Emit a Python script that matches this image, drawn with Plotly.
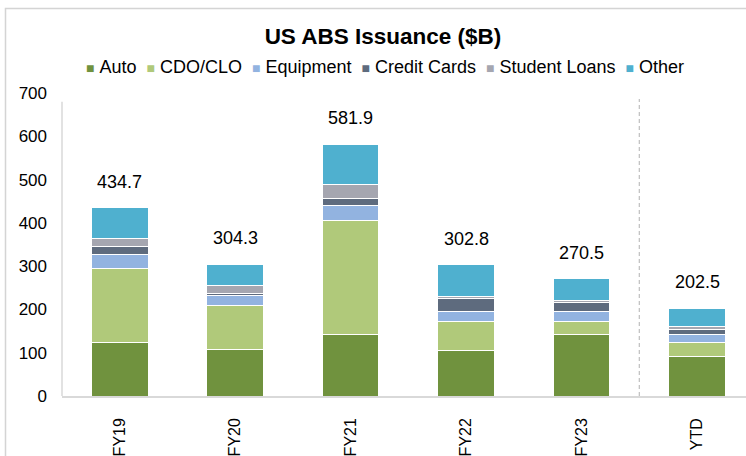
import plotly.graph_objects as go

# Issuance by asset class, $B
categories = ["FY19", "FY20", "FY21", "FY22", "FY23", "YTD"]
auto = [124, 108, 142, 106, 143, 91]
cdo_clo = [170, 102, 264, 65, 28, 32]
equipment = [32, 23, 34, 25, 24, 20]
credit_cards = [19, 3, 16, 29, 20, 11]
student_loans = [18, 19, 32, 5, 5, 6]
other = [71.7, 49.3, 93.9, 72.8, 50.5, 42.5]

series_names = ["Auto", "CDO/CLO", "Equipment", "Credit Cards", "Student Loans", "Other"]
series_values = [auto, cdo_clo, equipment, credit_cards, student_loans, other]
series_colors = ["#70923E", "#B0C97A", "#92B3E0", "#5E6B7E", "#A5A6B0", "#4FB0CF"]

y_ticks = [0, 100, 200, 300, 400, 500, 600, 700]

totals = [round(sum(vals), 1) for vals in zip(*series_values)]

FONT = "Liberation Sans, Arial, sans-serif"

fig = go.Figure()
for name, vals, color in zip(series_names, series_values, series_colors):
    fig.add_trace(go.Bar(
        x=categories, y=vals, name=name,
        marker=dict(color=color, line=dict(color="white", width=1)),
        width=0.49, showlegend=False,
    ))

# total labels above each stack
for cat, tot in zip(categories, totals):
    fig.add_annotation(
        x=cat, y=tot, text=f"{tot:.1f}", showarrow=False,
        yanchor="bottom", yshift=14,
        font=dict(family=FONT, size=18, color="#000000"),
    )

# compact legend row: coloured squares followed by names
nb = "\u00a0"
parts = []
for name, color in zip(series_names, series_colors):
    parts.append(f'<span style="color:{color};font-size:14px">■</span>{nb}{name}')
legend_text = (nb * 2).join(parts)
fig.add_annotation(
    xref="paper", yref="paper", x=0.472, y=1.085,
    text=legend_text, showarrow=False, xanchor="center", yanchor="middle",
    font=dict(family=FONT, size=18, color="#000000"),
)

# y axis line, divider before YTD, outer frame
fig.add_shape(type="line", xref="paper", yref="y", x0=0, x1=0, y0=0, y1=680,
              line=dict(color="#D9D9D9", width=1.5))
fig.add_shape(type="line", xref="x", yref="y", x0=4.5, x1=4.5, y0=0, y1=686,
              line=dict(color="#BFBFBF", width=1.2, dash="4px,3px"))
fig.add_shape(type="rect", xref="paper", yref="paper",
              x0=-0.0826, x1=1.2, y0=-0.5, y1=1.2787,
              line=dict(color="#D4D4D4", width=1.5))

fig.update_layout(
    width=746, height=456,
    margin=dict(l=62, r=0, t=93, b=58),
    paper_bgcolor="white", plot_bgcolor="white",
    barmode="stack",
    title=dict(
        text="US ABS Issuance ($B)", xref="container", yref="container",
        x=0.5134, y=0.9200, xanchor="center", yanchor="middle",
        font=dict(family=FONT, size=22.5, color="#000000", weight=700),
    ),
    xaxis=dict(
        type="category", range=[-0.5, 5.424], tickangle=-90,
        showline=True, linecolor="#D9D9D9", linewidth=1.5,
        showgrid=False, ticks="", ticklabelstandoff=14,
        tickfont=dict(family=FONT, size=16, color="#000000"),
    ),
    yaxis=dict(
        range=[0, 700], tickvals=y_ticks, showgrid=False, zeroline=False,
        showline=False, ticks="", ticklabelstandoff=14,
        tickfont=dict(family=FONT, size=17, color="#000000"),
    ),
)

fig.write_html("out.html")
